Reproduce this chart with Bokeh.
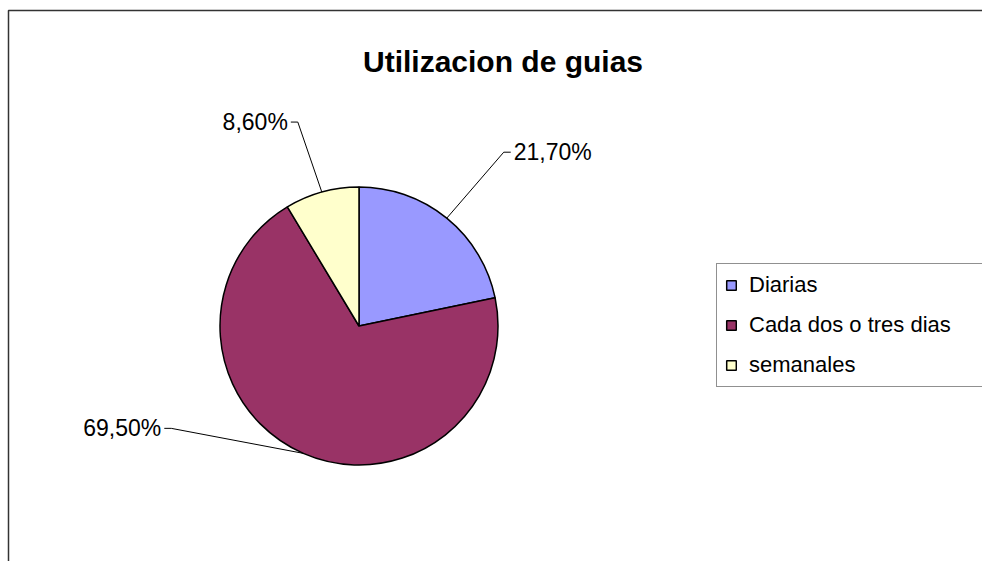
import numpy as np
from bokeh.plotting import figure
from bokeh.models import Range1d, Legend, LegendItem, BoxAnnotation, ColumnDataSource
from bokeh.core.properties import value
from bokeh.embed import file_html
from bokeh.resources import INLINE

# ---------------- data ----------------
title_text = "Utilizacion de guias"
categories = ["Diarias", "Cada dos o tres dias", "semanales"]
percentages = [21.70, 69.50, 8.60]
colors = ["#9999FF", "#993366", "#FFFFCC"]

# ---------------- layout / style ----------------
W, H = 982, 561
CX, CY, R = 358.5, 235.5, 139          # pie centre & radius (px units)
FONT = "Liberation Sans"
# elbow offsets of leader lines from slice mid-point (px, y up) and label side
ELBOW = [(57, 66), (-132, 25), (-24, 70)]
SIDE = [1, -1, -1]
TICK = 7
GAP = 3

p = figure(width=W, height=H, output_backend="svg", toolbar_location=None,
           x_range=Range1d(0, W), y_range=Range1d(0, H), min_border=0,
           background_fill_color="white", border_fill_color="white")
p.axis.visible = False
p.grid.visible = False
p.outline_line_color = None

# chart-area border (only top & left visible: the reference is cropped)
p.add_layout(BoxAnnotation(left=8, right=W + 40, top=H - 10, bottom=-40,
                           fill_alpha=0, line_color="#333333", line_width=1.5,
                           line_alpha=1))

# pie
vals = np.array(percentages, dtype=float)
frac = vals / vals.sum()
cum = np.concatenate([[0], np.cumsum(frac)])
start = np.pi / 2 - 2 * np.pi * cum[:-1]
end = np.pi / 2 - 2 * np.pi * cum[1:]
src = ColumnDataSource(dict(cat=categories, start=start, end=end, color=colors,
                            x=[CX] * 3, y=[CY] * 3))
wedges = p.wedge(x="x", y="y", radius=R, start_angle="start", end_angle="end",
                 direction="clock", fill_color="color", line_color="black",
                 line_width=1.5, source=src)

# leader lines & labels
mid = (start + end) / 2
mx = CX + R * np.cos(mid)
my = CY + R * np.sin(mid)
xs, ys, lx, ly, aligns, texts = [], [], [], [], [], []
for i, v in enumerate(percentages):
    ex, ey = mx[i] + ELBOW[i][0], my[i] + ELBOW[i][1]
    tx = ex + SIDE[i] * TICK
    xs.append([mx[i], ex, tx])
    ys.append([my[i], ey, ey])
    lx.append(tx + SIDE[i] * GAP)
    ly.append(ey)
    aligns.append("left" if SIDE[i] > 0 else "right")
    texts.append(f"{v:.2f}".replace(".", ",") + "%")
p.multi_line(xs=xs, ys=ys, line_color="black", line_width=1)
p.text(x=lx, y=ly, text=texts, text_align=aligns, text_baseline="middle",
       text_font=value(FONT), text_font_size="23px", text_color="black")

# title
p.text(x=[502.5], y=[500], text=[title_text], text_align="center",
       text_baseline="alphabetic", text_font=value(FONT),
       text_font_size="30px", text_font_style="bold", text_color="black")

# legend
items = [LegendItem(label=c, renderers=[wedges], index=i) for i, c in enumerate(categories)]
legend = Legend(items=items, location=(716, 174), orientation="vertical",
                glyph_width=12, glyph_height=12, label_standoff=12,
                label_text_font=FONT, label_text_font_size="22px",
                label_text_color="black",
                label_height=24, label_width=310, spacing=14, padding=8, margin=0,
                border_line_color="#222222", border_line_width=1,
                background_fill_color="white", background_fill_alpha=1)
p.add_layout(legend)

open("out.html", "w").write(file_html(p, INLINE))
